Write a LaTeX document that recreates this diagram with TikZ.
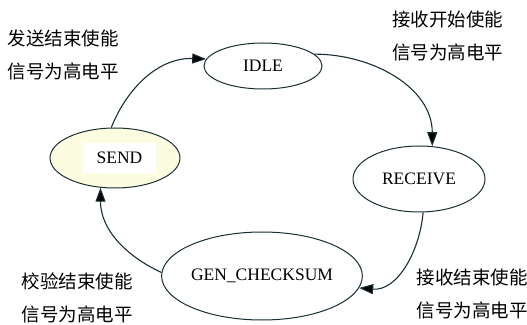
\documentclass[tikz,border=0pt]{standalone}
\usepackage{fontspec}
\setmainfont{Liberation Serif}
\newfontfamily\cjk{Noto Sans CJK SC}
\usetikzlibrary{shapes.geometric,arrows.meta}
\definecolor{edgecol}{rgb}{0.10,0.18,0.20}
\definecolor{sendfill}{rgb}{0.99,0.99,0.88}
\begin{document}
\begin{tikzpicture}[x=1pt, y=1pt,
                    line width=1pt,
                    draw=edgecol,
                    font=\fontsize{17.5}{20}\selectfont,
                    ]
    \tikzstyle{state}=[ellipse,draw=edgecol,line width=1pt,inner sep=0pt]
    \tikzstyle{cond}=[align=left,inner sep=0pt,font=\fontsize{18.5}{33}\cjk]
    \tikzstyle{trans}=[draw=edgecol,line width=1.1pt,-{Triangle[length=14pt,width=10pt,fill=black]}]

    \useasboundingbox (0,0) rectangle (527,324);

    \node[state, minimum width=118, minimum height=46] (idle) at (263,258) {IDLE};
    \node[state, minimum width=132, minimum height=66] (receive) at (419,145) {RECEIVE};
    \node[state, minimum width=190, minimum height=88] (gen) at (262,48) {GEN\_CHECKSUM};
    \node[state, fill=sendfill, minimum width=130, minimum height=60] (send) at (115,166) {};
    \node[fill=white, minimum width=73, minimum height=30, inner sep=0pt] (sendtxt) at (119.5,166) {SEND};

    \node[cond] (startrx) at (447.5,288) {接收开始使能\\信号为高电平};
    \node[cond] (endtx) at (63,269) {发送结束使能\\信号为高电平};
    \node[cond] (endchk) at (77,26.5) {校验结束使能\\信号为高电平};
    \node[cond] (endrx) at (472,30.5) {接收结束使能\\信号为高电平};

    \path[trans] (idle.13) to[out=0, in=90] (receive.68);
    \path[trans] (receive.-83) to[out=-95, in=-5] (gen.-7);
    \path[trans] (gen.178) to[out=155, in=-90] (send.-116);
    \path[trans] (send.97) to[out=68, in=178] (idle.173);
\end{tikzpicture}
\end{document}
